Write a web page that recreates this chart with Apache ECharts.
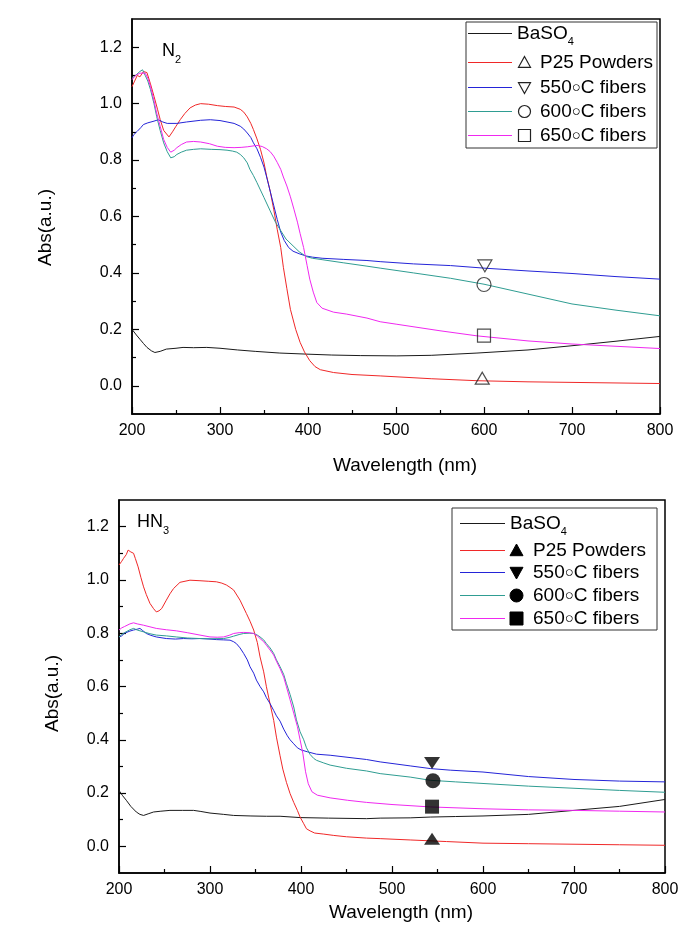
<!DOCTYPE html>
<html>
<head>
<meta charset="utf-8">
<title>UV-Vis absorbance, N2 and HN3</title>
<script src="https://cdn.jsdelivr.net/npm/echarts@6.0.0/dist/echarts.min.js"></script>
<style>
  html, body { margin: 0; padding: 0; background: #fff; }
  #chart { width: 685px; height: 938px; }
</style>
</head>
<body>
<div id="chart"></div>
<script>
// ---- data: [wavelength (nm), Abs (a.u.)] ----
var seriesNames = ['BaSO4', 'P25 Powders', '550\u2218C fibers', '600\u2218C fibers', '650\u2218C fibers'];
var seriesColors = ['#1a1a1a', '#f02828', '#2424d8', '#2f9d92', '#f028f0'];
var yTickValues = [0, 0.2, 0.4, 0.6, 0.8, 1.0, 1.2];
var yMinorTickValues = [0.1, 0.3, 0.5, 0.7, 0.9, 1.1];

// N2 panel
var n2BaSO4 = [[200,0.20],[205,0.18],[209,0.165],[213,0.15],[217,0.136],[222,0.124],[226,0.118],[232,0.122],[239,0.13],[250,0.133],[258,0.136],[270,0.135],[285,0.136],[300,0.133],[320,0.127],[340,0.122],[368,0.116],[400,0.112],[427,0.109],[460,0.107],[501,0.106],[540,0.108],[592,0.116],[650,0.127],[700,0.142],[750,0.158],[800,0.175]];
var n2P25 = [[200,1.06],[203,1.08],[206,1.1],[209,1.095],[213,1.114],[217,1.11],[221,1.07],[225,1.026],[229,0.98],[232,0.944],[236,0.905],[242,0.882],[246,0.9],[250,0.92],[255,0.944],[260,0.965],[266,0.985],[272,0.995],[278,1.0],[287,0.998],[297,0.993],[306,0.99],[316,0.988],[323,0.98],[327,0.97],[331,0.953],[335,0.93],[338,0.908],[342,0.875],[346,0.838],[350,0.79],[353,0.743],[357,0.69],[361,0.626],[365,0.555],[369,0.49],[372,0.42],[376,0.344],[380,0.271],[386,0.2],[391,0.154],[396,0.12],[402,0.089],[408,0.068],[414,0.057],[429,0.047],[450,0.04],[482,0.035],[540,0.025],[592,0.018],[650,0.014],[700,0.012],[750,0.01],[800,0.008]];
var n2F550 = [[200,0.879],[202,0.89],[204,0.885],[206,0.902],[210,0.915],[213,0.926],[218,0.932],[225,0.938],[230,0.943],[235,0.935],[240,0.93],[251,0.93],[262,0.935],[278,0.941],[289,0.943],[300,0.94],[308,0.935],[316,0.93],[323,0.92],[327,0.91],[331,0.896],[335,0.88],[338,0.861],[342,0.84],[346,0.81],[350,0.775],[353,0.74],[357,0.69],[361,0.64],[365,0.59],[369,0.545],[373,0.515],[378,0.49],[383,0.477],[390,0.468],[398,0.46],[405,0.456],[416,0.452],[440,0.448],[467,0.444],[482,0.44],[520,0.432],[562,0.426],[600,0.417],[650,0.407],[700,0.398],[750,0.387],[800,0.378]];
var n2F600 = [[200,1.09],[204,1.1],[209,1.114],[212,1.12],[215,1.1],[218,1.08],[221,1.05],[225,1.0],[228,0.955],[232,0.905],[236,0.861],[240,0.83],[244,0.808],[248,0.812],[251,0.82],[256,0.828],[262,0.835],[270,0.838],[278,0.84],[290,0.838],[300,0.837],[308,0.835],[314,0.832],[319,0.828],[323,0.82],[327,0.808],[331,0.79],[334,0.767],[338,0.745],[342,0.72],[350,0.667],[357,0.62],[363,0.58],[368,0.555],[375,0.52],[383,0.496],[390,0.475],[398,0.458],[405,0.452],[416,0.447],[440,0.436],[467,0.424],[482,0.417],[520,0.4],[562,0.381],[600,0.36],[650,0.325],[700,0.29],[750,0.268],[800,0.248]];
var n2F650 = [[200,1.085],[204,1.1],[209,1.108],[215,1.108],[218,1.09],[221,1.061],[225,1.01],[228,0.967],[232,0.92],[236,0.873],[240,0.845],[244,0.828],[248,0.835],[251,0.844],[256,0.855],[262,0.864],[270,0.866],[278,0.864],[288,0.858],[297,0.849],[306,0.845],[316,0.844],[324,0.845],[331,0.847],[342,0.852],[348,0.848],[353,0.84],[357,0.83],[361,0.814],[365,0.792],[369,0.767],[372,0.74],[376,0.708],[380,0.67],[384,0.626],[388,0.58],[391,0.54],[395,0.49],[399,0.426],[402,0.378],[406,0.332],[410,0.295],[416,0.275],[429,0.261],[444,0.254],[467,0.24],[482,0.227],[501,0.218],[550,0.195],[592,0.177],[650,0.159],[700,0.148],[750,0.14],[800,0.132]];
var n2MarkerPts = [[598,0.027],[601,0.425],[600,0.359],[600,0.178]];

// HN3 panel
var hn3BaSO4 = [[200,0.21],[204,0.19],[208,0.173],[213,0.15],[219,0.129],[223,0.12],[227,0.116],[232,0.122],[238,0.129],[246,0.132],[256,0.135],[270,0.135],[282,0.135],[290,0.131],[300,0.125],[315,0.12],[326,0.116],[345,0.114],[362,0.113],[377,0.113],[399,0.108],[430,0.106],[472,0.104],[487,0.106],[520,0.107],[542,0.11],[570,0.112],[600,0.114],[650,0.12],[700,0.135],[750,0.15],[800,0.176]];
var hn3P25 = [[200,1.056],[203,1.07],[205,1.081],[208,1.095],[210,1.112],[213,1.105],[216,1.1],[218,1.08],[221,1.049],[224,1.01],[227,0.974],[230,0.945],[234,0.912],[238,0.892],[241,0.88],[244,0.884],[247,0.893],[252,0.924],[256,0.948],[260,0.968],[267,0.991],[278,0.999],[289,0.997],[298,0.995],[307,0.993],[313,0.988],[318,0.981],[322,0.972],[326,0.962],[333,0.924],[340,0.874],[344,0.845],[348,0.812],[352,0.765],[355,0.711],[359,0.655],[362,0.599],[366,0.535],[370,0.473],[373,0.41],[377,0.34],[380,0.29],[384,0.24],[388,0.198],[392,0.165],[396,0.135],[399,0.11],[403,0.085],[406,0.066],[410,0.058],[415,0.05],[425,0.046],[436,0.041],[450,0.036],[472,0.031],[487,0.029],[520,0.024],[560,0.018],[600,0.012],[650,0.01],[700,0.008],[750,0.006],[800,0.004]];
var hn3F550 = [[200,0.786],[203,0.79],[206,0.8],[208,0.805],[212,0.808],[216,0.812],[220,0.815],[223,0.818],[226,0.81],[230,0.799],[235,0.792],[241,0.786],[252,0.78],[262,0.778],[271,0.78],[280,0.779],[289,0.78],[300,0.778],[307,0.776],[315,0.775],[322,0.774],[326,0.768],[329,0.761],[333,0.745],[337,0.724],[341,0.7],[344,0.674],[348,0.65],[351,0.624],[355,0.6],[359,0.58],[362,0.558],[366,0.536],[370,0.51],[373,0.49],[377,0.47],[381,0.44],[385,0.415],[388,0.4],[392,0.385],[396,0.37],[400,0.362],[407,0.355],[417,0.346],[432,0.342],[472,0.326],[487,0.317],[520,0.302],[542,0.292],[564,0.286],[600,0.279],[650,0.262],[700,0.251],[750,0.245],[800,0.242]];
var hn3F600 = [[200,0.786],[203,0.795],[206,0.802],[208,0.808],[212,0.813],[216,0.818],[220,0.812],[227,0.805],[234,0.798],[241,0.793],[252,0.79],[263,0.786],[275,0.782],[289,0.78],[300,0.779],[315,0.78],[321,0.784],[326,0.789],[332,0.795],[337,0.799],[343,0.8],[348,0.799],[352,0.793],[355,0.786],[359,0.775],[362,0.761],[366,0.745],[370,0.724],[373,0.7],[377,0.674],[381,0.645],[384,0.611],[388,0.57],[392,0.523],[395,0.475],[399,0.43],[403,0.4],[406,0.37],[410,0.345],[414,0.33],[417,0.323],[425,0.313],[432,0.305],[450,0.293],[472,0.283],[487,0.273],[520,0.26],[542,0.248],[570,0.242],[600,0.236],[650,0.226],[700,0.218],[750,0.21],[800,0.203]];
var hn3F650 = [[200,0.812],[203,0.82],[206,0.825],[208,0.828],[212,0.835],[216,0.839],[220,0.835],[227,0.83],[234,0.824],[241,0.818],[252,0.813],[263,0.809],[275,0.802],[289,0.793],[300,0.786],[308,0.785],[315,0.786],[321,0.792],[326,0.799],[332,0.802],[337,0.803],[343,0.802],[348,0.799],[352,0.79],[355,0.78],[359,0.768],[362,0.755],[366,0.737],[370,0.718],[373,0.695],[377,0.667],[381,0.635],[384,0.599],[388,0.55],[392,0.5],[396,0.45],[399,0.4],[402,0.35],[405,0.28],[408,0.235],[412,0.205],[418,0.192],[432,0.182],[451,0.173],[472,0.165],[500,0.157],[542,0.148],[600,0.141],[650,0.137],[700,0.135],[750,0.132],[800,0.129]];
var hn3MarkerPts = [[544,0.029],[544,0.313],[545,0.246],[544,0.149]];

var markerSymbols = ['triangle', 'triangle', 'circle', 'rect'];
var markerRotate = [0, 180, 0, 0];

// ---- chart ----
var FONT = '"Liberation Sans", Arial, Helvetica, sans-serif';
var chart = echarts.init(document.getElementById('chart'), null, { renderer: 'canvas' });

var makeXAxis = function (gi, nameGap) {
    return {
        type: 'value', gridIndex: gi, min: 200, max: 800, interval: 100,
        name: 'Wavelength (nm)', nameLocation: 'middle', nameGap: nameGap,
        nameTextStyle: { fontSize: 19, color: '#000', fontFamily: FONT, padding: [0, 0, 0, 18] },
        axisLine: { show: true, onZero: false, lineStyle: { color: '#000', width: 1.5 } },
        axisTick: { show: true, inside: true, length: 7, lineStyle: { color: '#000', width: 1.2 } },
        minorTick: { show: true, splitNumber: 2, length: 4, lineStyle: { color: '#000', width: 1.2 } },
        axisLabel: { margin: 9, fontSize: 16, color: '#000', fontFamily: FONT },
        splitLine: { show: false }
    };
};

var makeYAxis = function (gi, nameGap, namePad) {
    return {
        type: 'value', gridIndex: gi, min: -0.1, max: 1.3, position: 'left',
        name: 'Abs(a.u.)', nameLocation: 'middle', nameGap: nameGap, nameRotate: 90,
        nameTextStyle: { fontSize: 19, color: '#000', fontFamily: FONT, padding: [0, namePad, 0, 0] },
        axisLine: { show: true, onZero: false, lineStyle: { color: '#000', width: 1.5 } },
        axisTick: { show: true, inside: true, length: 7, customValues: yTickValues, lineStyle: { color: '#000', width: 1.2 } },
        axisLabel: { margin: 10, fontSize: 16, color: '#000', fontFamily: FONT, customValues: yTickValues,
            formatter: function (v) { return v.toFixed(1); } },
        splitLine: { show: false }
    };
};

// second y axis on each grid only carries the short minor ticks
var makeMinorYAxis = function (gi) {
    return {
        type: 'value', gridIndex: gi, min: -0.1, max: 1.3, position: 'left', offset: 0,
        axisLine: { show: false },
        axisTick: { show: true, inside: true, length: 4, customValues: yMinorTickValues, lineStyle: { color: '#000', width: 1.2 } },
        axisLabel: { show: false },
        splitLine: { show: false }
    };
};

var series = [];
var addPanel = function (gi, curves, markerPts, filled, symSize) {
    for (var i = 0; i < curves.length; i++) {
        series.push({
            type: 'line', name: seriesNames[i], data: curves[i],
            xAxisIndex: gi, yAxisIndex: gi * 2,
            symbol: 'none', showSymbol: false, silent: true,
            lineStyle: { width: 1, color: seriesColors[i] },
            itemStyle: { color: seriesColors[i] },
            z: 3
        });
    }
    for (var j = 0; j < markerPts.length; j++) {
        series.push({
            type: 'scatter', data: [markerPts[j]],
            xAxisIndex: gi, yAxisIndex: gi * 2,
            symbol: markerSymbols[j], symbolRotate: markerRotate[j],
            symbolSize: symSize[j], silent: true,
            itemStyle: filled
                ? { color: '#000', borderWidth: 0 }
                : { color: 'rgba(0,0,0,0)', borderColor: '#222', borderWidth: 1.2 },
            z: 5
        });
    }
};

addPanel(0, [n2BaSO4, n2P25, n2F550, n2F600, n2F650], n2MarkerPts, false, [[14, 12], [14, 12], 14, 13]);
addPanel(1, [hn3BaSO4, hn3P25, hn3F550, hn3F600, hn3F650], hn3MarkerPts, true, [[16, 12], [16, 12], 15, 14]);

// legend boxes are drawn by hand: line, marker, label
var legendShape = function (kind, cx, cy, s, filled) {
    var style = filled ? { fill: '#000', stroke: '#000', lineWidth: 1 } : { fill: 'none', stroke: '#222', lineWidth: 1.2 };
    var h = s / 2;
    if (kind === 'up') return { type: 'polygon', shape: { points: [[cx, cy - h], [cx + h, cy + h * 0.8], [cx - h, cy + h * 0.8]] }, style: style };
    if (kind === 'down') return { type: 'polygon', shape: { points: [[cx, cy + h], [cx + h, cy - h * 0.8], [cx - h, cy - h * 0.8]] }, style: style };
    if (kind === 'circle') return { type: 'circle', shape: { cx: cx, cy: cy, r: h }, style: style };
    return { type: 'rect', shape: { x: cx - h, y: cy - h, width: s, height: s }, style: style };
};

var richText = {
    s: { fontSize: 11, fontFamily: FONT, fill: '#000', verticalAlign: 'bottom', lineHeight: 11 },
    d: { fontSize: 15, fontFamily: FONT, fill: '#000', verticalAlign: 'middle', lineHeight: 22 }
};

var legendLabel = function (name) {
    if (name === 'BaSO4') return 'BaSO{s|4}';
    return name.replace('\u2218', '{d|\u25CB}');
};

var buildLegend = function (box, rowsY, lineX0, lineX1, symX, textX0, textX, symSize, filled) {
    var els = [{
        type: 'rect', shape: { x: box.x, y: box.y, width: box.w, height: box.h },
        style: { fill: '#fff', stroke: '#333', lineWidth: 1 }, z: 10
    }];
    var kinds = [null, 'up', 'down', 'circle', 'square'];
    for (var i = 0; i < seriesNames.length; i++) {
        var y = rowsY[i];
        els.push({ type: 'line', shape: { x1: lineX0, y1: y, x2: lineX1, y2: y },
            style: { stroke: seriesColors[i], lineWidth: 1 }, z: 11 });
        if (kinds[i]) {
            var sh = legendShape(kinds[i], symX, y, symSize, filled);
            sh.z = 11;
            els.push(sh);
        }
        els.push({
            type: 'text', x: i === 0 ? textX0 : textX, y: y, z: 11,
            style: {
                text: legendLabel(seriesNames[i]),
                fontSize: 19, fontFamily: FONT, fill: '#000',
                verticalAlign: 'middle', lineHeight: 28, rich: richText
            }
        });
    }
    return els;
};

var graphics = []
    .concat(buildLegend({ x: 466, y: 22, w: 191, h: 126 }, [33.5, 62.5, 87.5, 111.5, 135.5], 468, 512, 524.5, 517, 540, 12, false))
    .concat(buildLegend({ x: 452, y: 508, w: 205, h: 122 }, [523.5, 550.5, 572.5, 595.5, 618.5], 460, 505, 516.5, 510, 533, 13, true));

graphics.push({
    type: 'text', x: 162, y: 51, z: 11,
    style: { text: 'N{s|2}', fontSize: 18, fontFamily: FONT, fill: '#000', verticalAlign: 'middle', lineHeight: 28, rich: richText }
});
graphics.push({
    type: 'text', x: 137, y: 522, z: 11,
    style: { text: 'HN{s|3}', fontSize: 18, fontFamily: FONT, fill: '#000', verticalAlign: 'middle', lineHeight: 28, rich: richText }
});

var option = {
    animation: false,
    backgroundColor: '#fff',
    grid: [
        { left: 132, top: 19, width: 528, height: 395, show: true, borderColor: '#000', borderWidth: 1.5, backgroundColor: 'transparent' },
        { left: 119, top: 500, width: 546, height: 373, show: true, borderColor: '#000', borderWidth: 1.5, backgroundColor: 'transparent' }
    ],
    xAxis: [makeXAxis(0, 42), makeXAxis(1, 30)],
    yAxis: [makeYAxis(0, 77, 22), makeMinorYAxis(0), makeYAxis(1, 57, 14), makeMinorYAxis(1)],
    series: series,
    graphic: graphics
};

chart.setOption(option);
</script>
</body>
</html>
